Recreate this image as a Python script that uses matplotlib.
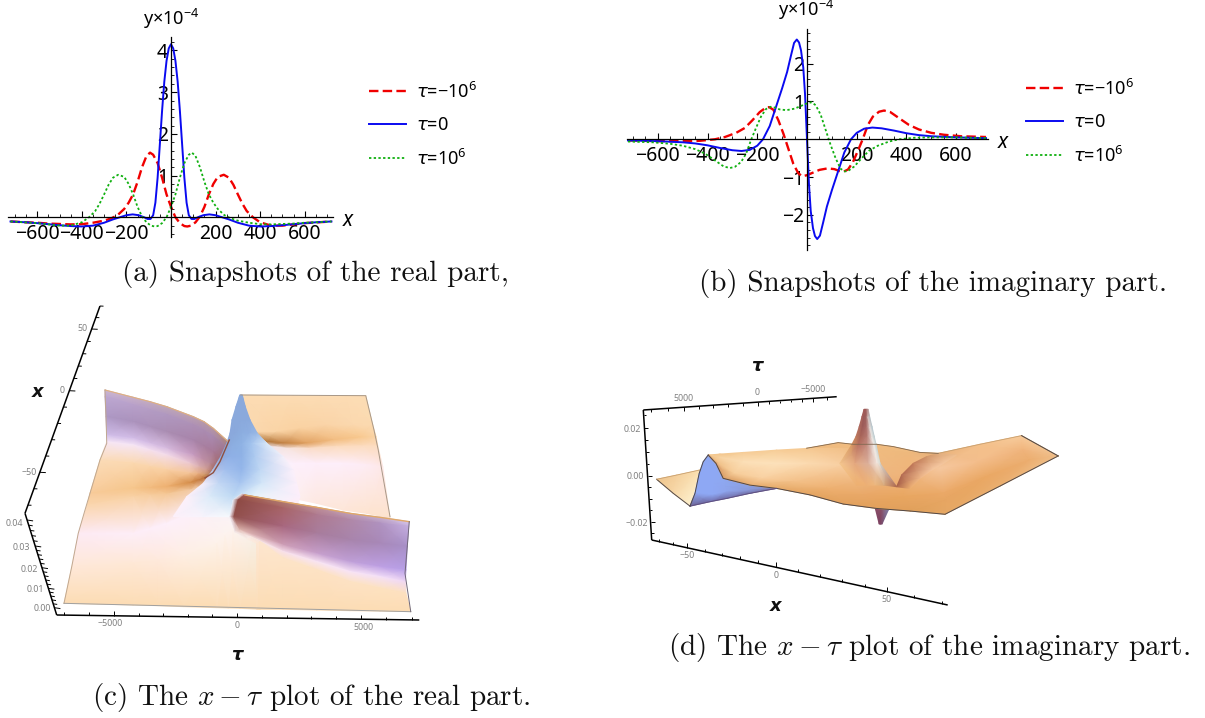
import numpy as np
import matplotlib
matplotlib.use("Agg")
import matplotlib.pyplot as plt
from matplotlib.colors import to_rgb
from matplotlib.ticker import MultipleLocator, FixedLocator, FixedFormatter

W, H = 1205, 718
plt.rcParams['font.family'] = ['Noto Sans', 'DejaVu Sans']
plt.rcParams['mathtext.fontset'] = 'dejavusans'

# ---------- panel (a) snapshots of the real part ----------
a_red_x = [-720,-650,-600,-550,-500,-450,-400,-350,-300,-270,-240,-210,-190,-170,-150,-130,-110,-94,-80,-60,-40,-20,0,20,40,60,73,90,110,130,150,170,190,210,237,260,280,300,320,340,368,400,450,500,550,600,660,720]
a_red_y = [-.10,-.12,-.13,-.15,-.16,-.17,-.165,-.13,-.08,-.03,.05,.2,.35,.55,.85,1.2,1.47,1.55,1.5,1.3,.95,.55,.25,0,-.14,-.21,-.22,-.2,-.12,.02,.25,.55,.8,.97,1.02,.95,.78,.55,.33,.15,0,-.12,-.2,-.2,-.17,-.14,-.12,-.1]
a_blue_x = [-720,-650,-600,-500,-450,-400,-350,-300,-260,-230,-200,-172,-145,-120,-105,-92,-80,-70,-60,-50,-40,-30,-20,-10,0,10,20,30,40,50,60,70,80,92,105,120,145,172,200,230,260,300,350,400,450,500,600,650,720]
a_blue_y = [-.1,-.12,-.14,-.19,-.21,-.22,-.2,-.13,-.05,0,.05,.07,.05,0,-.04,-.04,.05,.35,.95,1.75,2.55,3.25,3.75,4.05,4.15,4.05,3.75,3.25,2.55,1.75,.95,.35,.05,-.04,-.04,0,.05,.07,.05,0,-.05,-.13,-.2,-.22,-.21,-.19,-.14,-.12,-.1]
a_green_x = [-720,-660,-600,-550,-500,-450,-400,-368,-340,-320,-300,-280,-260,-237,-210,-190,-170,-150,-130,-110,-90,-73,-60,-40,-20,0,20,40,60,80,94,110,130,150,170,190,210,240,270,300,350,400,450,500,550,600,650,720]
a_green_y = [-.1,-.12,-.14,-.17,-.2,-.2,-.12,0,.15,.33,.55,.78,.95,1.02,.97,.8,.55,.25,.02,-.12,-.2,-.22,-.21,-.14,0,.25,.55,.95,1.3,1.5,1.55,1.47,1.2,.85,.55,.35,.2,.05,-.03,-.08,-.13,-.165,-.17,-.16,-.15,-.13,-.12,-.10]

# ---------- panel (b) snapshots of the imaginary part ----------
b_red_x = [-720,-600,-500,-430,-370,-330,-285,-250,-220,-190,-165,-152,-135,-115,-95,-75,-55,-35,-19,0,25,50,83,110,130,146,165,185,205,224,245,265,290,310,335,370,410,450,500,550,620,720]
b_red_y = [-.03,-.05,-.05,-.04,0,.06,.17,.3,.5,.72,.84,.85,.78,.5,.15,-.25,-.65,-.9,-.98,-.95,-.88,-.81,-.77,-.79,-.84,-.86,-.8,-.6,-.3,0,.38,.6,.73,.76,.72,.56,.38,.26,.17,.12,.08,.06]
b_blue_x = [-720,-600,-500,-450,-400,-350,-300,-263,-230,-200,-177,-150,-125,-100,-80,-65,-52,-41,-32,-24,-15,-8,0,8,15,24,32,41,52,65,80,100,125,150,177,200,230,263,300,350,400,450,500,600,720]
b_blue_y = [-.03,-.05,-.08,-.11,-.16,-.23,-.29,-.31,-.28,-.17,0,.35,.85,1.35,1.78,2.2,2.55,2.64,2.56,2.35,1.9,1.2,0,-1.2,-1.9,-2.35,-2.56,-2.64,-2.55,-2.2,-1.78,-1.35,-.85,-.35,0,.17,.28,.31,.29,.23,.16,.11,.08,.05,.03]
b_green_x = [-720,-620,-550,-500,-450,-410,-370,-335,-310,-290,-265,-245,-224,-205,-185,-165,-146,-130,-110,-83,-50,-25,0,19,35,55,75,95,115,135,152,165,190,220,250,285,330,370,430,500,600,720]
b_green_y = [-.06,-.08,-.12,-.17,-.26,-.38,-.56,-.72,-.76,-.73,-.6,-.38,0,.3,.6,.8,.86,.84,.79,.77,.81,.88,.95,.98,.9,.65,.25,-.15,-.5,-.78,-.85,-.84,-.72,-.5,-.3,-.17,-.06,0,.04,.05,.05,.03]

# ---------- panel (c) surface, values projected on the picture plane ----------
c_left_tau = [[-5280,-4150,-3480,-2810,-1750,-1320,-950,-350],
              [-5280,-4150,-3480,-2810,-1750,-1320,-950,-410],
              [-5240,-4150,-3480,-2810,-1750,-1320,-950,-550],
              [-5210,-4150,-3480,-2810,-1750,-1390,-1080,-790],
              [-5210,-4150,-3480,-2810,-1880,-1520,-1210,-920],
              [-5480,-4150,-3480,-2810,-1880,-1550,-1280,-950],
              [-5880,-4150,-3480,-2810,-1880,-1550,-1280,-950],
              [-5990,-4150,-3480,-2810,-1880,-1520,-1210,-680],
              [-6350,-4150,-3480,-2810,-1880,-1410,-950,-280],
              [-6610,-4150,-3150,-2150,-810,-480,-150,920],
              [-6920,-4150,-3150,-2150,-810,-350,120,920]]
c_left_x = [[.4,-4,-6.6,-9.6,-15.6,-18.6,-22.6,-30.6],
            [-3.6,-8.6,-11.6,-14.6,-20.6,-24,-27.6,-34.6],
            [-15.6,-18.6,-21.6,-24.6,-29.6,-33.2,-36.6,-41.6],
            [-26.6,-28.6,-31.6,-34.6,-38.6,-41.2,-43.6,-47.2],
            [-30.6,-32.6,-35.6,-38.6,-43.6,-45.6,-47.6,-49.6],
            [-41.6,-43.6,-45.6,-47.6,-49.6,-50,-50.6,-50.8],
            [-61.6,-58.6,-58.2,-57.6,-55.2,-53.8,-52.4,-51.2],
            [-68.6,-63.6,-62.6,-62,-59.6,-58,-56.6,-51.6],
            [-85.6,-85.6,-82.6,-79.6,-73.6,-70,-65.6,-55.6],
            [-105.6,-103.6,-101.6,-99.6,-91.6,-87,-81.6,-69.6],
            [-127.6,-128.6,-129,-129.6,-130.2,-130.4,-130.6,-131.2]]
c_left_col = [['#cdb8cf','#c8b0c8','#c4acc0','#c0a8b8','#bca0b0','#b89ca8','#b898a0','#b08878'],
              ['#bda8d2','#b8a0ca','#b49cc4','#b098c0','#ae90b6','#ab8cb2','#a98ab0','#a07890'],
              ['#ad98c4','#ab92bc','#ab90b8','#aa8db2','#a884aa','#a87fa0','#a87a98','#a06a70'],
              ['#d0bde8','#d4bee8','#d6bde4','#d8bce0','#c89cc0','#c090a8','#b88a98','#9c5c50'],
              ['#f6e6f6','#f6e6f6','#f5e0f0','#f4dcea','#ecc8d0','#dcb0b0','#d09c90','#9a5a48'],
              ['#fbdcb8','#fbd8b0','#fad4aa','#f9d0a4','#f4c498','#e8ae80','#d09868','#a06038'],
              ['#f8cb9a','#f6c68c','#f2bb7e','#eeb070','#d48c48','#c67c40','#b87038','#a86030'],
              ['#fad6ae','#f9d2a6','#f7cd9e','#f5c896','#f2c8a0','#f0c8a8','#f0ccb4','#e6d4e0'],
              ['#fdeaf4','#fdeef8','#fdeef9','#fdeffa','#fdf0fa','#fbf0f8','#f8f2fc','#cfe0f6'],
              ['#fee8d8','#fee8d6','#fee9dc','#feeee2','#fdf2ea','#fdf3ee','#fdf4f2','#f4f8fc'],
              ['#fcdcb4']*8]
c_back_tau = [[150,1190,2250,3320,4390,5150],[650,1590,2520,3590,4650,5430],[1190,1850,2790,3850,4920,5560],
              [1320,1990,2920,3990,5050,5630],[1450,2250,3190,4250,5190,5830],[1190,2250,3190,4250,5190,6120]]
c_back_x = [[-2.6,-2.8,-3,-3,-3,-3],[-24.6,-24.6,-22.6,-20.6,-20.6,-20.6],[-30.6,-31.6,-31.6,-29.6,-28,-27.6],
            [-33.6,-34.6,-34.6,-33.6,-33.2,-33.2],[-43.6,-43.6,-43.6,-43.6,-44.6,-45.6],[-63.6,-64.6,-67.6,-71.6,-73.6,-76.6]]
c_back_col = [['#fcdcb4']*6,
              ['#fbd8ae','#fad4a6','#fad2a2','#fad4a8','#fbd8ae','#fbdab0'],
              ['#b07438','#c07e40','#e0a060','#f2bc80','#f8c88e','#fad4a6'],
              ['#f0e4ec','#f6e4e0','#fadcc8','#fcdcc0','#fcdcc0','#fcdcc0'],
              ['#fcf0fc','#fdf0fc','#fdeefa','#fdeefa','#fdecf4','#fde8e8'],
              ['#fdf0f6','#fdf0f0','#fde8e0','#fde6d8','#fde4d0','#fde2cc']]
c_peak_tau = [[110,130,160,190,210],[-40,50,150,250,330],[-200,-40,160,360,520],[-280,-80,190,490,810],
              [-410,-150,190,590,1190],[-650,-280,190,720,1850],[-970,-480,190,920,2250],
              [-1350,-750,120,990,2390],[-2010,-1080,-150,650,2520],[-2550,-1350,-280,390,2250]]
c_peak_x = [[-2.6]*5,[-9.6]*5,[-17.6]*5,[-25.6]*5,[-31.6]*5,[-39.6]*5,[-47.6]*5,[-55.6]*5,[-63.6]*5,[-75.6]*5]
c_peak_col = [['#8aa9dc']*5,['#8aa9dc']*5,['#8aa9dc']*5,
              ['#8aa8dc','#8aa9dc','#8caee0','#8fb0e2','#98b8e6'],
              ['#8aa8dc','#8caee0','#8fb2e4','#a4c4ee','#d8e8f8'],
              ['#8ea8dc','#8fb0e6','#8fb2e6','#aecbf0','#f4f0fa'],
              ['#b4bfe4','#a4c0ee','#94b6ea','#c0d8f4','#fcf0fb'],
              ['#f4eefa','#c4d8f4','#a8c6f0','#d4e6f8','#fceffa'],
              ['#fdf0fa','#dcebf9','#c0daf4','#e8f4fb','#fdeefa'],
              ['#fdf0fa','#f8f4fc','#f6fafc','#fbf8fa','#fdeef4']]
c_band_tau = [[190,320,1850,3190,4520,5720,6890],[-150,50,1850,3190,4520,5720,6870],[-280,-120,1850,3190,4520,5720,6810],
              [-80,120,1850,3190,4520,5720,6760],[390,520,1850,3190,4520,5720,6730],[790,920,1850,3190,4520,5720,6760],
              [790,920,1850,3190,4520,5720,6950]]
c_band_x = [[-62,-62.6,-66.6,-70,-73.6,-76,-78.6],[-65.6,-65.6,-70.6,-74.6,-77.6,-79.6,-81.6],[-75.6,-75.6,-81.6,-85.6,-89.6,-91.6,-93.6],
            [-84.6,-83.6,-92.6,-97.6,-102.6,-105.6,-107.6],[-88.6,-87.6,-96.6,-102.6,-108.6,-111.6,-114.6],
            [-91.6,-90.6,-100.6,-107.6,-114.6,-118.6,-121.6],[-131.2,-131.2,-131.2,-131.6,-132,-132.2,-132.6]]
c_band_col = [['#e8e0e8','#a85c50','#b07c70','#c09098','#c0a0b8','#c8b0cc','#d8c8e8'],
              ['#e8eef8','#8e4a44','#a86468','#ae7a90','#b088a8','#b092c0','#c4aee0'],
              ['#f0e8f0','#92504c','#a86880','#a87c9c','#a884ac','#a888b8','#a890c8'],
              ['#f4e8e8','#e0b8b0','#cfa0b8','#c8a0cc','#c0a0d8','#bea0e4','#b8a0e8'],
              ['#faeee8','#f8e8e8','#f8e0ec','#f8e4f4','#f8e4f6','#f4e0f8','#f0d8f4'],
              ['#fde8d8','#fde6d0','#fde4c8','#fde2c4','#fde2c4','#fde2c0','#fde0c0'],
              ['#fcdcb4']*7]
c_edge_left_tau = [-5280,-5240,-5210,-5480,-5880,-6080,-6350,-6610,-6920]
c_edge_left_x = [.4,-15.6,-31.6,-41.6,-61.6,-71.6,-85.6,-105.6,-127.6]
c_edge_back_tau = [150,5150,5480,5650,6120]
c_edge_back_x = [-2.6,-3,-23.6,-35.6,-75.6]
c_edge_front_tau = [-6920,6950]
c_edge_front_x = [-127.6,-132.6]
c_edge_right_tau = [6890,6810,6720,6950]
c_edge_right_x = [-78.6,-93.6,-109.6,-132.6]
c_fold_tau = [-1280,-950,-680,-480,-310]
c_fold_x = [-52.4,-49.2,-42.6,-35.6,-29.6]

# ---------- panel (d) surface, values projected on the picture plane ----------
d_main_x = [[-33.7,-27.8,-16.2,.5,17.2,33.8,50.5,67.2,81.3,102.2,123,141.3],
            [-33.7,-27.8,-16.2,.5,17.2,33.8,50.5,67.2,82.2,100.5,123.8,141.3],
            [-33.7,-28.7,-21.2,-7.8,8.8,25.5,43.8,63.8,83.8,105.5,127.2,141.3],
            [-33.7,-29.8,-26.2,-12.8,.5,17.2,33.8,50.5,67.2,84.7,112.2,141.3]]
d_main_z = [[9,9.4,10.1,11.1,11.9,11.9,11.1,10,9.7,13.6,17.3,8.6],
            [9,8,6.1,5.4,5.4,4.7,-.3,1.1,3.3,6.1,11.1,8.6],
            [9,5.4,1.1,-1,-2.4,-5.3,-8.1,-8.9,-7.4,-.3,6.9,8.6],
            [9,5.4,-1,-3.9,-5.3,-8.1,-12,-13.9,-15,-16.4,-4.3,8.6]]
d_main_col = [['#f3c68c','#f3c68c','#f6cc96','#f6cc96','#f5c890','#f2c088','#f0bc80','#eeb87c','#e8b078','#f4c08a','#f8cc9c','#f0c08c'],
              ['#f3c68c','#f8d4a4','#fce0b8','#fde2bc','#fbdab0','#f8cfa2','#eeb680','#f0b47a','#f6c8a0','#f4be8c','#f0b47c','#f0c08c'],
              ['#eeb878','#f0c088','#f6cc98','#f9d0a0','#f3c088','#eeb070','#e9a868','#e8a660','#eba968','#eaa864','#ecae70','#f0c08c'],
              ['#d89a68','#d89a68','#d89a60','#e8ac6c','#e6aa68','#e4a460','#e3a25e','#e2a05c','#e0a05a','#e6a864','#ecb070','#f0c08c']]
d_back_x = [[15.5,31.3,38.8,50.5,58.8,72.2,81.3]]*2
d_back_z = [[11.9,14.3,13.6,13.6,12.6,10.1,9.7],[7]*7]
d_back_col = [['#f0bc80']*7,['#eeb87c']*7]
d_wing_x = [[-59.5,-49.5,-37.8],[-59.5,-51.2,-42.8]]
d_wing_z = [[-1.4,.4,2.6],[-1.4,-7.4,-12.9]]
d_wing_col = [['#eec48c','#f4cf9c','#fbe0b0'],['#eec48c','#f8d8a8','#fef2d0']]
d_blue_x = [[-33.7,-29.8,-26.2,-12.8,.5],[-36.2,-29.8,-25.3,-12.8,.5],[-38.2,-30.8,-24.8,-12.8,.5],
            [-40.3,-31.5,-24.5,-12.8,.5],[-42.8,-32.8,-24.5,-12.8,.5]]
d_blue_z = [[9,5.4,-1,-3.9,-5.3],[6.1,1.1,-2.4,-4.6,-5.3],[1.1,-3.1,-4.6,-5.3,-5.3],
            [-7.4,-8.1,-6.7,-6,-5.3],[-12.9,-11,-9.6,-7.4,-5.3]]
d_blue_col = [['#8ea8f0','#8ea8f4','#90a8f0','#8ca0e0','#8088c0'],
              ['#8ea8f4','#8ea8f4','#8ea8f0','#8ca0e0','#8088c0'],
              ['#8ea8f4','#8ea8f4','#8ea6ee','#8a9cdc','#8084b8'],
              ['#8ea8f4','#8ea8f4','#8ea4ec','#8a98d8','#8080b0'],
              ['#6a6090','#706ca8','#6f6ca8','#7070a8','#807098']]
d_spike_x = [[44.2,44.7,45.2,45.7,46.3],[43.2,44.2,45.2,46.2,47],[41.8,43.5,45.5,47.2,48.2],[40.2,42.5,45.8,48.2,49.3],
             [38,41.3,45.8,49.2,50.3],[32.2,39.7,46.3,50.8,52.2],[40.5,45.5,49.7,54.2,60.5]]
d_spike_z = [[28.6]*5,[25.4]*5,[21.1]*5,[16.9]*5,[13.3]*5,[5.4]*5,[-3.9,-3.9,-3.9,-3.9,-4.6]]
d_spike_col = [['#a05a58','#a05a58','#a05a58','#a86c68','#c0a0a0'],
               ['#a8625c','#9c5a58','#9c6260','#d0b4b0','#b8c0c4'],
               ['#b06c60','#9c5a58','#ac6c68','#e4dcd8','#b4c4cc'],
               ['#c07c60','#a86458','#b87c74','#ece8e4','#bcccd0'],
               ['#d89860','#b87060','#c48c80','#f0ece8','#c4d0d0'],
               ['#f5c890','#e4a880','#dcb09c','#f4e8e0','#d8dcd4'],
               ['#eeb070','#eeb074','#eeb87c','#d8a878','#a86048']]
d_under_x = [[49.7,53,56.5],[51.8,52.5,53.2]]
d_under_z = [[-13.4,-14.3,-14.3],[-20.6]*3]
d_under_col = [['#8a5068','#8a5068','#8088b0'],['#7a4060','#7a4060','#7a5070']]
d_rim_x = [[60.5,63,68.8,75.5,81.3],[67.2,72.2,78,83.8,90.5]]
d_rim_z = [[-4.6,.4,5.4,8.3,9.7],[-5.3,-1,2.6,5.4,9]]
d_rim_col = [['#a86048','#b06850','#c07858','#d09468','#e0ac7c'],['#eeb070','#f0b888','#f6c8a0','#f6c8a0','#f0c090']]

# ---------- 3D axis ticks: value, and position ----------
c_xaxis_vals = [-75,-50,0,50,70]
c_xaxis_py = [513.3,472.3,390.7,329,306]
c_zaxis_vals = [-.005,0,.01,.02,.03,.04]
c_zaxis_py = [615,607.7,588.3,567.7,546,520]
c_taxis_vals = [-7300,-5000,0,5000,7300]
c_taxis_px = [56.7,114,237,361,419.3]
d_taxis_vals = [7500,5000,0,-5000,-6700]
d_taxis_px = [643.3,684,757.7,813,836.7]
d_zaxis_vals = [.027,.02,0,-.02,-.028]
d_zaxis_py = [410,428.3,476,521.7,540]
d_xaxis_vals = [-75,-50,0,50,72]
d_xaxis_px = [651.7,686.7,775.7,886.7,947.7]


def add_px_axes(l, t, r, b):
    return fig.add_axes([l / W, 1 - b / H, (r - l) / W, (b - t) / H])


def mesh(ax, X, Y, cols):
    C = np.array([[to_rgb(c) for c in row] for row in cols])
    ax.pcolormesh(np.array(X, float), np.array(Y, float), C, shading='gouraud')


fig = plt.figure(figsize=(W / 100, H / 100), dpi=100, facecolor='white')
LBL = ['\u2212600', '\u2212400', '\u2212200', '200', '400', '600']


def snapshot(rect, xlim, ylim, yt, ytl, series, leg_xy, lbl_xy, ylab_xy):
    ax = add_px_axes(*rect)
    ax.set_xlim(*xlim)
    ax.set_ylim(*ylim)
    ax.patch.set_alpha(0)
    for s in ('top', 'right'):
        ax.spines[s].set_visible(False)
    ax.spines['left'].set_position(('data', 0))
    ax.spines['bottom'].set_position(('data', 0))
    for s in ('left', 'bottom'):
        ax.spines[s].set_linewidth(.9)
    ax.xaxis.set_major_locator(FixedLocator([-600, -400, -200, 200, 400, 600]))
    ax.xaxis.set_major_formatter(FixedFormatter(LBL))
    ax.xaxis.set_minor_locator(MultipleLocator(50))
    ax.yaxis.set_major_locator(FixedLocator(yt))
    ax.yaxis.set_major_formatter(FixedFormatter(ytl))
    ax.yaxis.set_minor_locator(MultipleLocator(.2))
    ax.tick_params(which='major', direction='in', length=4, width=.8, labelsize=14, pad=2)
    ax.tick_params(axis='x', which='major', pad=5)
    ax.tick_params(which='minor', direction='in', length=2, width=.6)
    hs = []
    for (x, y, c, ls, lw, lab) in series:
        h, = ax.plot(x, y, color=c, ls=ls, lw=lw, label=lab)
        hs.append(h)
    fig.legend(handles=hs, loc='center left', bbox_to_anchor=(leg_xy[0] / W, 1 - leg_xy[1] / H),
               frameon=False, fontsize=13, handlelength=2.05, handletextpad=.55,
               labelspacing=.8, borderpad=0, borderaxespad=0)
    ov.text(lbl_xy[0], lbl_xy[1], 'x', fontsize=15, style='italic', ha='center', va='center')
    ov.text(ylab_xy[0], ylab_xy[1], 'y\u00d710$^{\\mathregular{\u22124}}$', fontsize=13, ha='center', va='center')


ov = fig.add_axes([0, 0, 1, 1], zorder=10)
ov.set_xlim(0, W)
ov.set_ylim(H, 0)
ov.axis('off')
ov.patch.set_alpha(0)

L_A, L_0, L_B = '$\\tau$=\u221210$^{\\mathregular{6}}$', '$\\tau$=0', '$\\tau$=10$^{\\mathregular{6}}$'
RED, BLUE, GREEN = '#f00000', '#0a0af0', '#10b010'
snapshot((8.3, 36.7, 333, 236.7), (-730, 727), (-.465, 4.33), [1, 2, 3, 4], ['1', '2', '3', '4'],
         [(a_red_x, a_red_y, RED, (0, (4, 1.8)), 1.7, L_A), (a_blue_x, a_blue_y, BLUE, '-', 1.4, L_0),
          (a_green_x, a_green_y, GREEN, (0, (1.3, 1.3)), 1.3, L_B)], (369, 125), (348, 220), (171, 19))
snapshot((626.5, 29.3, 988, 250), (-726, 728), (-2.93, 2.91), [-2, -1, 1, 2], ['\u22122', '\u22121', '1', '2'],
         [(b_red_x, b_red_y, RED, (0, (4, 1.8)), 1.7, L_A), (b_blue_x, b_blue_y, BLUE, '-', 1.4, L_0),
          (b_green_x, b_green_y, GREEN, (0, (1.3, 1.3)), 1.3, L_B)], (1026, 122), (1003, 142), (806, 10))

# panel c
axc = add_px_axes(0, 300, 440, 680)
axc.set_xlim(-9480, 8120)
axc.set_ylim(-173.6, 54.4)
axc.axis('off')
mesh(axc, c_left_tau, c_left_x, c_left_col)
mesh(axc, c_back_tau, c_back_x, c_back_col)
mesh(axc, c_peak_tau, c_peak_x, c_peak_col)
mesh(axc, c_band_tau, c_band_x, c_band_col)
axc.plot(c_left_tau[0], c_left_x[0], color='#e0b080', lw=.8)
axc.plot(c_band_tau[0][1:], c_band_x[0][1:], color='#e0a868', lw=1)
axc.plot(c_edge_left_tau, c_edge_left_x, color='#c0a890', lw=.7)
axc.plot(c_edge_back_tau, c_edge_back_x, color='#a89888', lw=.7)
axc.plot(c_edge_front_tau, c_edge_front_x, color='#a0a0a0', lw=.7)
axc.plot(c_edge_right_tau, c_edge_right_x, color='#706878', lw=.7)
axc.plot(c_fold_tau, c_fold_x, color='#905040', lw=1)

# panel d
axd = add_px_axes(610, 350, 1100, 620)
axd.set_xlim(-82.8, 162.2)
axd.set_ylim(-61.7, 54)
axd.axis('off')
mesh(axd, d_back_x, d_back_z, d_back_col)
mesh(axd, d_under_x, d_under_z, d_under_col)
mesh(axd, d_wing_x, d_wing_z, d_wing_col)
mesh(axd, d_blue_x, d_blue_z, d_blue_col)
mesh(axd, d_main_x, d_main_z, d_main_col)
mesh(axd, d_rim_x, d_rim_z, d_rim_col)
mesh(axd, d_spike_x, d_spike_z, d_spike_col)
ek = dict(color='#504848', lw=.7)
axd.plot(d_main_x[3], d_main_z[3], **ek)
axd.plot(d_main_x[0][8:], d_main_z[0][8:], color='#c8a070', lw=.6)
axd.plot(d_main_x[0][10:], d_main_z[0][10:], **ek)
axd.plot(d_back_x[0], d_back_z[0], color='#806850', lw=.6)
axd.plot(d_wing_x[1], d_wing_z[1], **ek)
axd.plot(d_wing_x[0], d_wing_z[0], color='#c8a070', lw=.6)
axd.plot(d_blue_x[4], d_blue_z[4], color='#605080', lw=.7)
axd.plot([r[0] for r in d_blue_x], [r[0] for r in d_blue_z], **ek)


def axis3d(p0, p1, vals, pos, by, ticks, majors, tv, ln=(6, 3.5)):
    """Slanted box axis; by = 0 if pos holds x pixels, 1 if y pixels."""
    p0, p1 = np.array(p0, float), np.array(p1, float)
    ov.plot([p0[0], p1[0]], [p0[1], p1[1]], color='k', lw=1.1, solid_capstyle='butt')
    order = np.argsort(vals)
    for v in ticks:
        m = np.interp(v, np.array(vals)[order], np.array(pos)[order])
        f = (m - p0[by]) / (p1[by] - p0[by])
        pt = p0 + f * (p1 - p0)
        L = ln[0] if v in majors else ln[1]
        ov.plot([pt[0], pt[0] + tv[0] * L], [pt[1], pt[1] + tv[1] * L], color='k', lw=.7, solid_capstyle='butt')


G = dict(fontsize=6.4, color='#808080', ha='center', va='center')
B = dict(fontsize=13, fontweight='bold', style='italic', ha='center', va='center', color='#111111',
         family='DejaVu Sans')
# axes of c
axis3d((100, 306), (25, 513.3), c_xaxis_vals, c_xaxis_py, 1, list(range(-70, 71, 10)), [-50, 0, 50], (1, .05))
axis3d((25, 513.3), (56.7, 615), c_zaxis_vals, c_zaxis_py, 1, [i * .002 for i in range(0, 21)], [0, .01, .02, .03, .04], (1, .15), ln=(6, 4))
axis3d((56.7, 615), (419.3, 620), c_taxis_vals, c_taxis_px, 0, list(range(-7000, 7001, 1000)), [-5000, 0, 5000], (0, -1), ln=(4.5, 3))
for s, x, y in [('50', 82.3, 328.3), ('0', 62.3, 390.7), ('\u221250', 29.3, 472.3), ('0.04', 14.5, 524), ('0.03', 21.7, 547.3),
                ('0.02', 29.3, 569), ('0.01', 35.7, 589.3), ('0.00', 42.3, 608.3), ('\u22125000', 110, 624), ('0', 237, 625.7), ('5000', 363.3, 627.3)]:
    ov.text(x, y, s, **G)
ov.text(37.7, 391.7, 'x', **B)
ov.text(237.3, 655, '\u03c4', **B)
# axes of d
axis3d((643.3, 410), (836.7, 396.7), d_taxis_vals, d_taxis_px, 0, list(range(-6000, 7001, 1000)), [-5000, 0, 5000], (0, 1), ln=(3.5, 2.5))
axis3d((643.3, 410), (651.7, 540), d_zaxis_vals, d_zaxis_py, 1, [i * .005 for i in range(-5, 6)], [-.02, 0, .02], (1, 0), ln=(4, 2.5))
axis3d((651.7, 540), (947.7, 605), d_xaxis_vals, d_xaxis_px, 0, list(range(-70, 71, 10)), [-50, 0, 50], (0, -1), ln=(5, 3))
for s, x, y in [('5000', 683.3, 398.3), ('0', 756.7, 392.7), ('\u22125000', 813.3, 389.3), ('0.02', 632, 429), ('0.00', 635, 476.7),
                ('\u22120.02', 636.3, 524), ('\u221250', 686.7, 555.7), ('0', 775.7, 575.7), ('50', 886.7, 600)]:
    ov.text(x, y, s, **G)
ov.text(757.3, 366, '\u03c4', **B)
ov.text(775.7, 605.7, 'x', **B)

# captions
C = dict(fontsize=21, family='cmr10', math_fontfamily='cm', va='center', ha='left', color='#111111')
ov.text(122, 273, '(a) Snapshots of the real part,', **C)
ov.text(699, 284, '(b) Snapshots of the imaginary part.', **C)
ov.text(92, 697, '(c) The $x-\\tau$ plot of the real part.', **C)
ov.text(668, 647, '(d) The $x-\\tau$ plot of the imaginary part.', **C)

fig.savefig('out.png', dpi=100)
